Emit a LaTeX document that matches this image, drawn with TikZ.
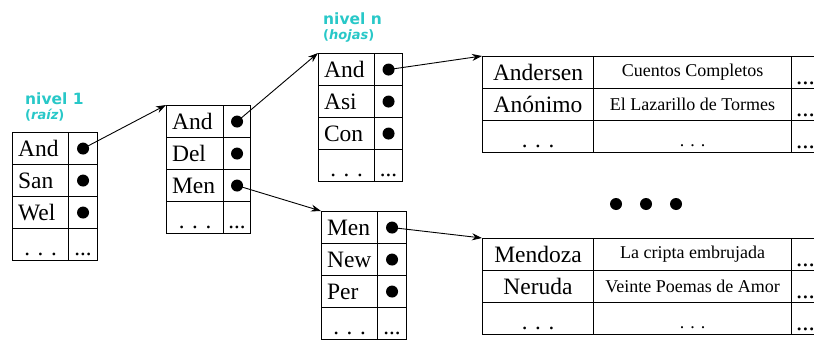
\documentclass[tikz,border=0pt]{standalone}
\usepackage{fontspec}
\setmainfont{Liberation Serif}
\newfontfamily\headfont{DejaVu Sans}
\usetikzlibrary{arrows.meta}
\definecolor{turq}{RGB}{40,200,200}
\tikzset{
  kcell/.style={draw, line width=1.1pt, anchor=north west, inner sep=0pt, minimum height=32pt, font=\fontsize{23.5}{23.5}\selectfont},
  keycell/.style={kcell, inner xsep=5.5pt, align=left},
  tcell/.style={kcell, font=\fontsize{18}{18}\selectfont},
  ptr/.style={circle, fill=black, inner sep=0pt, minimum size=12pt},
  bigdot/.style={circle, fill=black, inner sep=0pt, minimum size=12pt},
  dotsw/.style={anchor=south, inner sep=0pt, font=\fontsize{23}{23}\selectfont},
  dotsm/.style={anchor=south, inner sep=0pt, font=\fontsize{18}{18}\selectfont},
  dotst/.style={anchor=south, inner sep=0pt, font=\fontsize{23}{23}\selectfont},
  dotsr/.style={anchor=south west, inner sep=0pt, font=\fontsize{25}{25}\selectfont},
  head/.style={anchor=base west, inner sep=0pt, text=turq, font=\headfont\bfseries\fontsize{15.5}{15.5}\selectfont},
  headsub/.style={anchor=base west, inner sep=0pt, text=turq, font=\headfont\bfseries\fontsize{13}{13}\selectfont},
  arr/.style={-{Stealth[length=10pt,width=7pt]}, line width=0.9pt},
}
% #1 name, #2 x, #3 y, #4 key width, #5 pointer width, #6-#8 labels, #9 key text width
\newcommand\keytab[9]{%
  \node[keycell,text width=#9pt] (#1k1) at (#2,#3) {#6};
  \node[keycell,text width=#9pt] (#1k2) at (#2,#3+32) {#7};
  \node[keycell,text width=#9pt] (#1k3) at (#2,#3+64) {#8};
  \node[kcell,minimum width=#4pt] (#1k4) at (#2,#3+96) {};
  \node[kcell,minimum width=#5pt] (#1p1) at (#2+#4,#3) {};
  \node[kcell,minimum width=#5pt] (#1p2) at (#2+#4,#3+32) {};
  \node[kcell,minimum width=#5pt] (#1p3) at (#2+#4,#3+64) {};
  \node[kcell,minimum width=#5pt] (#1p4) at (#2+#4,#3+96) {};
  \node[ptr] (#1d1) at (#1p1.center) {};
  \node[ptr] (#1d2) at (#1p2.center) {};
  \node[ptr] (#1d3) at (#1p3.center) {};
  \node[dotsw] (#1e1) at ([yshift=5pt]#1k4.south) {. . .};
  \node[dotst] (#1e2) at ([yshift=5pt]#1p4.south) {...};
}
\newcommand\datatab[6]{%
  \node[kcell,minimum width=111pt] (#1a1) at (482,#2) {#3};
  \node[kcell,minimum width=111pt] (#1a2) at (482,#2+32) {#5};
  \node[kcell,minimum width=111pt] (#1a3) at (482,#2+64) {};
  \node[tcell,minimum width=198pt] (#1b1) at (593,#2) {#4};
  \node[tcell,minimum width=198pt] (#1b2) at (593,#2+32) {#6};
  \node[tcell,minimum width=198pt] (#1b3) at (593,#2+64) {};
  \node[kcell,minimum width=40pt] (#1c1) at (791,#2) {};
  \node[kcell,minimum width=40pt] (#1c2) at (791,#2+32) {};
  \node[kcell,minimum width=40pt] (#1c3) at (791,#2+64) {};
  \node[dotsw] (#1e1) at ([yshift=5pt]#1a3.south) {. . .};
  \node[dotsm] (#1e2) at ([yshift=6pt]#1b3.south) {. . .};
  \node[dotsr] (#1r1) at ([xshift=5pt,yshift=4pt]#1c1.south west) {...};
  \node[dotsr] (#1r2) at ([xshift=5pt,yshift=4pt]#1c2.south west) {...};
  \node[dotsr] (#1r3) at ([xshift=5pt,yshift=4pt]#1c3.south west) {...};
}
\begin{document}
\begin{tikzpicture}[x=1pt, y=-1pt]
  \useasboundingbox (0,0) rectangle (814,340);
  \clip (0,0) rectangle (814,340);
  \fill[white] (0,0) rectangle (814,340);
  % headings
  \node[head] (h1) at (25,104) {nivel 1};
  \node[headsub] (h1s) at (25,119.5) {({\itshape raíz})};
  \node[head] (hn) at (323,24) {nivel n};
  \node[headsub] (hns) at (323,39.5) {({\itshape hojas})};
  % key tables
  \keytab{ta}{12}{132}{56}{29}{And}{San}{Wel}{45}
  \keytab{tb}{166}{105}{57}{27}{And}{Del}{Men}{46}
  \keytab{tc}{318}{53}{56}{28}{And}{Asi}{Con}{45}
  \keytab{td}{321}{211}{56}{29}{Men}{New}{Per}{45}
  % data tables
  \datatab{da}{56}{Andersen}{Cuentos Completos}{Anónimo}{El Lazarillo de Tormes}
  \datatab{db}{238}{Mendoza}{La cripta embrujada}{Neruda}{Veinte Poemas de Amor}
  % ellipsis dots
  \node[bigdot] (g1) at (616,204) {};
  \node[bigdot] (g2) at (646,204) {};
  \node[bigdot] (g3) at (676,204) {};
  % arrows
  \draw[arr] (tad1.center) -- (tbk1.north west);
  \draw[arr] (tbd1.center) -- (tck1.north west);
  \draw[arr] (tbd3.center) -- (tdk1.north west);
  \draw[arr] (tcd1.center) -- (daa1.north west);
  \draw[arr] (tdd1.center) -- (dba1.north west);
\end{tikzpicture}
\end{document}
